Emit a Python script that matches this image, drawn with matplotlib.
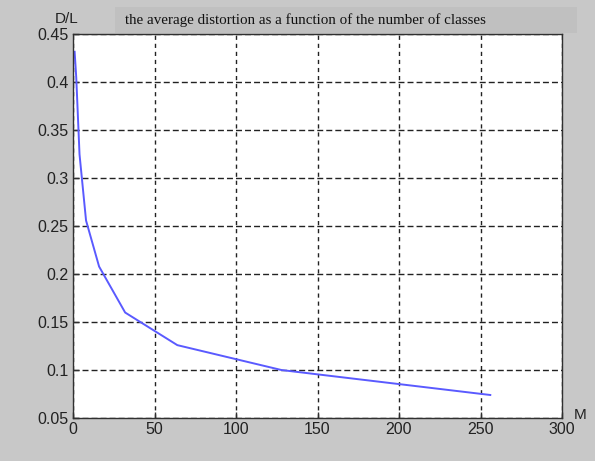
import numpy as np
import matplotlib.pyplot as plt
from matplotlib.patches import Rectangle

# codebook size vs normalised distortion
M = [1, 2, 4, 8, 16, 32, 64, 128, 256]
D_over_L = [0.432, 0.405, 0.325, 0.256, 0.208, 0.160, 0.126, 0.100, 0.074]

xticks = [0, 50, 100, 150, 200, 250, 300]
yticks = [0.05, 0.1, 0.15, 0.2, 0.25, 0.3, 0.35, 0.4, 0.45]
ytick_labels = ["0.05", "0.1", "0.15", "0.2", "0.25", "0.3", "0.35", "0.4", "0.45"]

bg = "#c8c8c8"
fig = plt.figure(figsize=(5.95, 4.61), dpi=100, facecolor=bg)

# title strip
fig.patches.append(Rectangle((115 / 595, 1 - 33 / 461), 462 / 595, 26 / 461,
                             transform=fig.transFigure, facecolor="#c0c0c0",
                             edgecolor="none", zorder=0))
fig.text(125 / 595, 1 - 20 / 461,
         "the average distortion as a function of the number of classes",
         family="Liberation Serif", fontsize=10.8, va="center", ha="left",
         color="#111111")

ax = fig.add_axes([73 / 595, 43 / 461, 489 / 595, 383.5 / 461])
ax.set_facecolor("white")
ax.plot(M, D_over_L, color="#5a5aff", lw=1.4)

ax.set_xlim(0, 300)
ax.set_ylim(0.05, 0.45)
ax.set_xticks(xticks)
ax.set_yticks(yticks)
ax.set_yticklabels(ytick_labels)
ax.tick_params(direction="in", length=4, width=1, colors="#303030",
               labelsize=11.5, labelcolor="#222222", pad=3)
for lbl in ax.get_xticklabels() + ax.get_yticklabels():
    lbl.set_family("Liberation Sans")
ax.xaxis.grid(True, color="#222222", linestyle=(0, (3, 2.8)), linewidth=1)
ax.yaxis.grid(True, color="#222222", linestyle=(0, (4.3, 2.2)), linewidth=1)
for s in ax.spines.values():
    s.set_color("#303030")
    s.set_linewidth(1)

fig.text(67 / 595, 1 - 19 / 461, "D/L", family="Liberation Sans",
         fontsize=11, ha="center", va="center", color="#222222")
fig.text(580 / 595, 1 - 415 / 461, "M", family="Liberation Sans",
         fontsize=11, ha="center", va="center", color="#222222")

fig.savefig("out.png", dpi=100, facecolor=bg)
